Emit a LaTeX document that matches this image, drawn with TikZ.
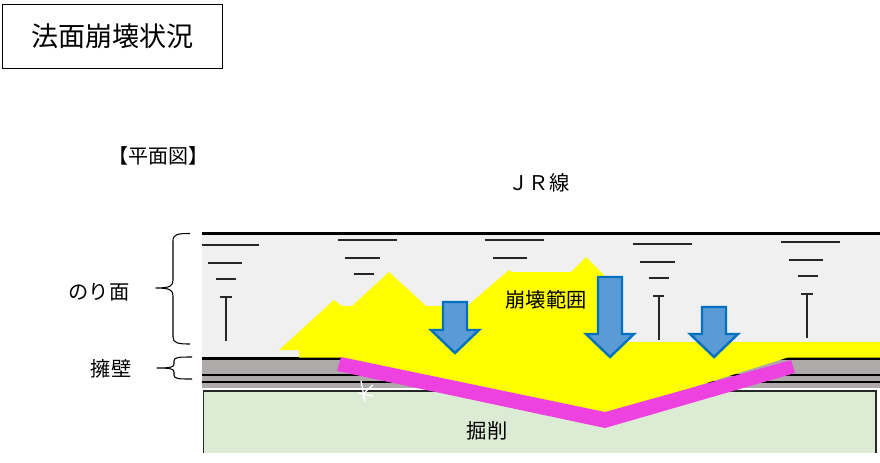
\documentclass[tikz,border=0pt]{standalone}
\usepackage{fontspec}
\setmainfont{Noto Sans CJK JP}
\definecolor{slopegrey}{HTML}{F0F0F0}
\definecolor{wallgrey}{HTML}{AEAAAA}
\definecolor{digcol}{HTML}{DCEBD4}
\definecolor{slipcol}{HTML}{FFFF00}
\definecolor{pinkcol}{HTML}{EE42E0}
\definecolor{arrowfill}{HTML}{5B9BD5}
\definecolor{arrowline}{HTML}{0070C0}
\tikzset{
  tick/.style={draw=black!85,line width=1pt},
  blackline/.style={draw=black,line width=1.6pt},
  brace/.style={draw=black,line width=0.8pt,line join=round},
  downarrow/.style={draw=arrowline,fill=arrowfill,line width=1.8pt,line join=miter},
  crack/.style={draw=white,line width=1pt},
  lab/.style={font=\fontsize{15.2}{15}\selectfont,inner sep=0pt,text=black}
}
\begin{document}
\begin{tikzpicture}[x=0.75pt,y=-0.75pt]
\useasboundingbox (0,0) rectangle (880,462);
\fill[white] (0,0) rectangle (880,462);
% title
\node[draw=black,line width=0.85pt,minimum width=165pt,minimum height=47.6pt,inner sep=0pt,font=\fontsize{20.3}{20}\selectfont] (title) at (112.7,36.4) {法面崩壊状況};
\node[font=\fontsize{15}{15}\selectfont,inner sep=0pt] (plan) at (158,156) {【平面図】};
\node[lab] (jr) at (539,183) {ＪＲ線};
% slope
\fill[slopegrey] (202,233) rectangle (880,358);
% wall
\fill[wallgrey] (202,358) rectangle (880,388);
\draw[draw=black,line width=2pt] (202,358.7) -- (880,358.7);
\draw[blackline] (202,375) -- (880,375);
\draw[blackline] (202,381.7) -- (880,381.7);
\draw[draw=black,line width=2pt] (202,233.5) -- (880,233.5);
% excavation
\fill[white] (202,388) rectangle (880,391);
\filldraw[fill=digcol,draw=none] (203.5,391) rectangle (876,453);
\draw[draw=black!85,line width=0.8pt] (203.5,453) -- (203.5,391) -- (876,391) -- (876,453);
% ticks
\foreach \xa/\xb/\y in {202/259/245,208/242/263,216/236/279,220/232/297,
  338/397/240,345/380/258,354/374/274,
  485/544/240,493/527/258,
  633/692/244,640/675/262,649/669/278,653/664/296,
  781/840/242,789/823/260,798/818/276,801/813/294}
  \draw[tick] (\xa,\y) -- (\xb,\y);
\draw[tick] (226,297) -- (226,341);
\draw[tick] (659,296) -- (659,340);
\draw[tick] (807,294) -- (807,338);
% slip area
\fill[slipcol] (279,350) -- (334,300) -- (342,306) -- (352,306) -- (389,272) -- (426,306)
  -- (467,306) -- (509,270) -- (512,272) -- (571,272) -- (586,257) -- (606,277)
  -- (622,290) -- (622,342) -- (880,342) -- (880,357.7) -- (787,357.7) -- (605,415)
  -- (345,360) -- (341,357.7) -- (299,357.7) -- (299,350) -- cycle;
% retaining line
\fill[pinkcol] (341,357) -- (605,412) -- (791,360) -- (795,373) -- (605,428) -- (337,371) -- cycle;
% crack
\draw[crack] (361,381) -- (365,402);
\draw[crack] (373,385) -- (365,392);
\draw[crack] (358,393) -- (373,396);
\draw[crack] (365,392) -- (363,399);
% arrows
\draw[downarrow] (443,302) -- (467,302) -- (467,330) -- (479,330) -- (455,353) -- (431,330) -- (443,330) -- cycle;
\draw[downarrow] (598,277) -- (622,277) -- (622,334) -- (634,334) -- (610,357) -- (586,334) -- (598,334) -- cycle;
\draw[downarrow] (702,307) -- (726,307) -- (726,334) -- (738,334) -- (714,357) -- (690,334) -- (702,334) -- cycle;
% labels
\node[lab] (slip) at (546,300) {崩壊範囲};
\node[lab] (dig) at (487,431) {掘削};
\node[lab] (face) at (99,292) {のり面};
\node[lab] (wall) at (111,369) {擁壁};
% braces
\draw[brace] (190,233.5) .. controls (178,233.5) and (173,234) .. (173,241) -- (173,280)
  .. controls (173,286) and (170,288) .. (156,288)
  .. controls (170,288) and (173,290) .. (173,296) -- (173,337)
  .. controls (173,343) and (178,344) .. (190,344);
\draw[brace] (192,357) .. controls (179,357) and (174,357) .. (174,361) -- (174,364)
  .. controls (174,367) and (171,368) .. (157,368)
  .. controls (171,368) and (174,369) .. (174,372) -- (174,375)
  .. controls (174,379) and (179,379) .. (192,379);
\end{tikzpicture}
\end{document}
